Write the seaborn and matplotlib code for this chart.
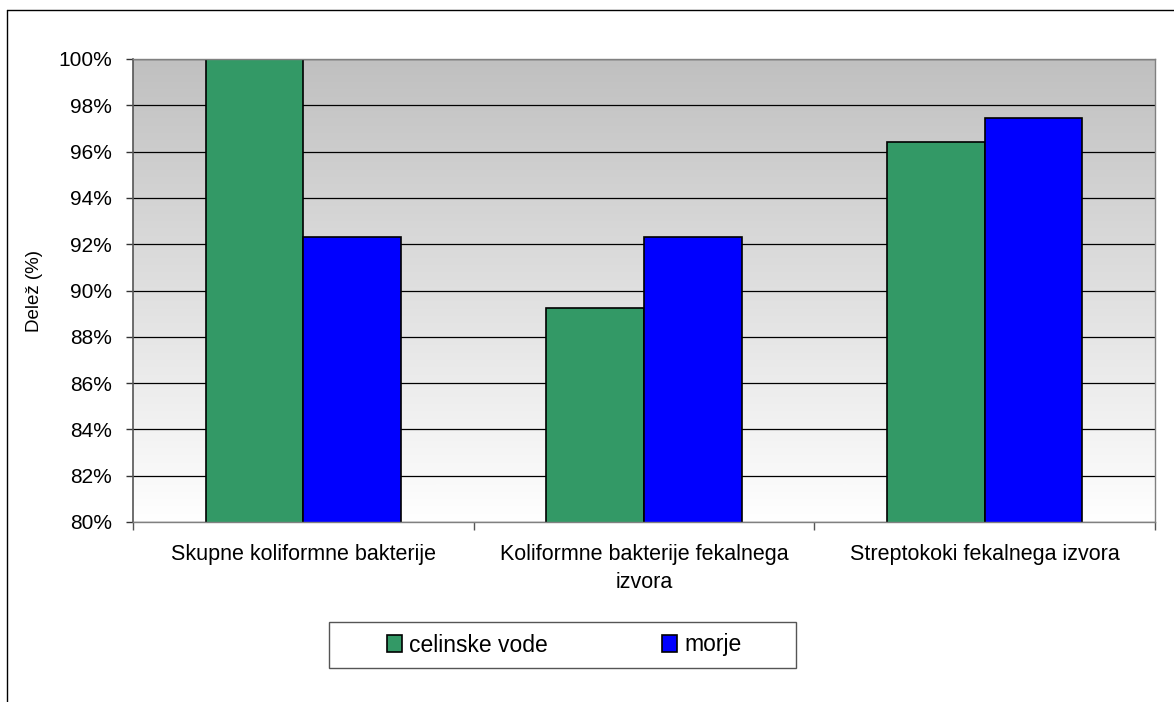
import numpy as np
import pandas as pd
import seaborn as sns
import matplotlib
matplotlib.use("Agg")
import matplotlib.pyplot as plt
from matplotlib.colors import LinearSegmentedColormap
from matplotlib.lines import Line2D
from matplotlib.patches import Rectangle
from matplotlib.ticker import FixedLocator, FuncFormatter

# Delež pozitivnih vzorcev po vrsti bakterij in vrsti vode (%)
categories = [
    "Skupne koliformne bakterije",
    "Koliformne bakterije fekalnega\nizvora",
    "Streptokoki fekalnega izvora",
]
series_names = ["celinske vode", "morje"]
celinske_vode = [100.0, 89.25, 96.4]
morje = [92.3, 92.3, 97.45]
y_ticks = [80, 82, 84, 86, 88, 90, 92, 94, 96, 98, 100]
colors = ["#339966", "#0000FF"]

df = pd.DataFrame({
    "kategorija": categories * 2,
    "voda": [series_names[0]] * 3 + [series_names[1]] * 3,
    "delez": celinske_vode + morje,
})

sns.set_style("white")
plt.rcParams["font.family"] = ["Liberation Sans", "DejaVu Sans"]
plt.rcParams["text.color"] = "black"
plt.rcParams["xtick.color"] = "black"
plt.rcParams["ytick.color"] = "black"
plt.rcParams["axes.labelcolor"] = "black"

W, H = 1174, 702
fig = plt.figure(figsize=(W / 100, H / 100), dpi=100)
fig.patch.set_facecolor("white")

# outer chart frame (top and left edges)
fig.add_artist(Line2D([7 / W, 1.0], [1 - 10 / H, 1 - 10 / H],
                      transform=fig.transFigure, color="black", lw=1.0))
fig.add_artist(Line2D([7 / W, 7 / W], [0.0, 1 - 10 / H],
                      transform=fig.transFigure, color="black", lw=1.0))

ax = fig.add_axes([133 / W, 1 - 522 / H, (1155 - 133) / W, (522 - 59) / H])

# grey-to-white vertical gradient behind the plot area
grad = np.linspace(0, 1, 256).reshape(-1, 1)
cmap = LinearSegmentedColormap.from_list("bg", ["#FFFFFF", "#C0C0C0"])
ax.imshow(grad, extent=[-0.5, 2.5, 80, 100], origin="lower", aspect="auto",
          cmap=cmap, zorder=-1, interpolation="bicubic")

sns.barplot(data=df, x="kategorija", y="delez", hue="voda",
            palette=colors, width=0.573, edgecolor="black", linewidth=1.2,
            saturation=1, ax=ax)

ax.set_xlim(-0.5, 2.5)
ax.set_ylim(80, 100)

ax.yaxis.set_major_locator(FixedLocator(y_ticks))
ax.yaxis.set_major_formatter(FuncFormatter(lambda v, p: f"{v:.0f}%"))
ax.yaxis.grid(True, color="black", lw=0.9)
ax.set_axisbelow(True)

ax.tick_params(axis="y", which="major", direction="out", length=5, width=1,
               color="#333333", pad=10, labelsize=15, left=True,
               labelcolor="black")
ax.set_xticks([0, 1, 2])
ax.set_xticklabels(categories, fontsize=15.5, linespacing=1.4)
ax.tick_params(axis="x", which="major", length=0, pad=16, labelcolor="black")
ax.set_xticks([-0.5, 0.5, 1.5, 2.5], minor=True)
ax.tick_params(axis="x", which="minor", direction="out", length=6, width=1,
               color="#555555", bottom=True)

ax.set_xlabel("")
ax.set_ylabel("Delež (%)", fontsize=13.5, color="black")
ax.yaxis.set_label_coords(-0.088, 0.5)

for side in ["top", "right", "bottom"]:
    ax.spines[side].set_color("#808080")
    ax.spines[side].set_linewidth(1.0)
ax.spines["left"].set_color("#555555")
ax.spines["left"].set_linewidth(1.2)

# legend in a framed box below the plot
handles, labels = ax.get_legend_handles_labels()
ax.get_legend().remove()
fig.add_artist(Rectangle((329 / W, 1 - 668 / H), (796 - 329) / W, 46 / H,
                         transform=fig.transFigure, facecolor="white",
                         edgecolor="#555555", lw=1.0))
leg = fig.legend(handles, labels, loc="center", ncol=2,
                 bbox_to_anchor=(564 / W, 1 - 645 / H),
                 frameon=False, fontsize=16.5, handlelength=0.66,
                 handleheight=0.75, handletextpad=0.3, columnspacing=5.0)
for t in leg.get_texts():
    t.set_color("black")

fig.savefig("out.png", dpi=100)
